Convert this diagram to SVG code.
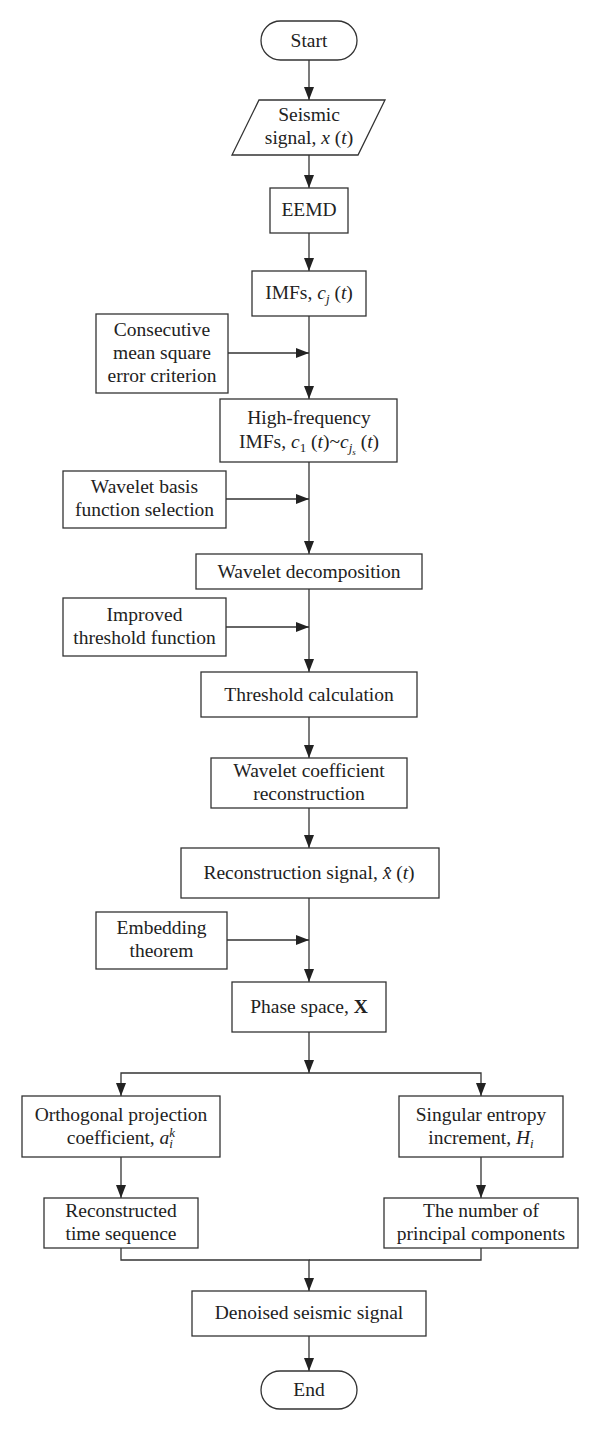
<svg xmlns="http://www.w3.org/2000/svg" width="600" height="1431" viewBox="0 0 600 1431">
<defs>
<style>
.b{fill:#fff;stroke:#333;stroke-width:1.3}
.c{fill:none;stroke:#333;stroke-width:1.3}
text{font-family:"Liberation Serif","Times New Roman",serif;font-size:19.5px;fill:#222;text-anchor:middle}
.i{font-style:italic}
.s{font-size:13px}
.ss{font-size:9px}
</style>
<marker id="a" markerUnits="userSpaceOnUse" markerWidth="13" markerHeight="10" refX="13" refY="5" orient="auto" viewBox="0 0 13 10">
<path d="M0,0 L13,5 L0,10 z" fill="#222"/>
</marker>
</defs>
<rect width="600" height="1431" fill="#fff"/>
<g id="connectors" class="c" marker-end="url(#a)">
<line x1="309" y1="60" x2="309" y2="100"/>
<line x1="309" y1="155" x2="309" y2="188"/>
<line x1="309" y1="233" x2="309" y2="271"/>
<line x1="309" y1="316" x2="309" y2="399"/>
<line x1="228" y1="353" x2="309" y2="353"/>
<line x1="309" y1="462" x2="309" y2="554"/>
<line x1="226" y1="499" x2="309" y2="499"/>
<line x1="309" y1="589" x2="309" y2="672"/>
<line x1="226" y1="627" x2="309" y2="627"/>
<line x1="309" y1="717" x2="309" y2="758"/>
<line x1="309" y1="808" x2="309" y2="848"/>
<line x1="309" y1="898" x2="309" y2="982"/>
<line x1="227" y1="940" x2="309" y2="940"/>
<line x1="309" y1="1032" x2="309" y2="1073"/>
<polyline points="309,1073 121,1073 121,1096"/>
<polyline points="309,1073 481,1073 481,1096"/>
<line x1="121" y1="1157" x2="121" y2="1198"/>
<line x1="481" y1="1157" x2="481" y2="1198"/>
<polyline points="121,1248 121,1260 309,1260 309,1291"/>
<polyline points="481,1248 481,1260 309,1260" marker-end="none"/>
<line x1="309" y1="1336" x2="309" y2="1371"/>
</g>
<g id="start"><rect class="b" x="261" y="21" width="96" height="39" rx="19.5"/><text x="309" y="47">Start</text></g>
<g id="input"><polygon class="b" points="259,100 385,100 358,155 232,155"/><text x="309" y="121">Seismic</text><text x="309" y="144">signal, <tspan class="i">x</tspan> (<tspan class="i">t</tspan>)</text></g>
<g id="eemd"><rect class="b" x="270" y="188" width="78" height="45"/><text x="309" y="216">EEMD</text></g>
<g id="imfs"><rect class="b" x="252" y="271" width="114" height="45"/><text x="309" y="299">IMFs, <tspan class="i">c</tspan><tspan class="i s" dy="4">j</tspan><tspan dy="-4"> (</tspan><tspan class="i">t</tspan>)</text></g>
<g id="cmse"><rect class="b" x="96" y="314" width="132" height="79"/><text x="162" y="336">Consecutive</text><text x="162" y="359">mean square</text><text x="162" y="382">error criterion</text></g>
<g id="hf"><rect class="b" x="220" y="399" width="177" height="63"/><text x="309" y="424">High-frequency</text><text x="309" y="448">IMFs, <tspan class="i">c</tspan><tspan class="s" dy="4">1</tspan><tspan dy="-4"> (</tspan><tspan class="i">t</tspan>)~<tspan class="i">c</tspan><tspan class="i s" dy="4">j</tspan><tspan class="i ss" dy="3">s</tspan><tspan dy="-7"> (</tspan><tspan class="i">t</tspan>)</text></g>
<g id="wbasis"><rect class="b" x="63" y="471" width="163" height="57"/><text x="144.5" y="493">Wavelet basis</text><text x="144.5" y="516">function selection</text></g>
<g id="wdec"><rect class="b" x="196" y="554" width="226" height="35"/><text x="309" y="578">Wavelet decomposition</text></g>
<g id="ithr"><rect class="b" x="63" y="598" width="163" height="58"/><text x="144.5" y="621">Improved</text><text x="144.5" y="644">threshold function</text></g>
<g id="tcalc"><rect class="b" x="201" y="672" width="216" height="45"/><text x="309" y="701">Threshold calculation</text></g>
<g id="wcr"><rect class="b" x="211" y="758" width="196" height="50"/><text x="309" y="777">Wavelet coefficient</text><text x="309" y="800">reconstruction</text></g>
<g id="rsig"><rect class="b" x="181" y="848" width="258" height="50"/><text x="309" y="879">Reconstruction signal, <tspan class="i">x̂</tspan> (<tspan class="i">t</tspan>)</text></g>
<g id="embed"><rect class="b" x="96" y="912" width="131" height="57"/><text x="161.5" y="934">Embedding</text><text x="161.5" y="957">theorem</text></g>
<g id="phase"><rect class="b" x="232" y="982" width="154" height="50"/><text x="309" y="1013">Phase space, <tspan font-weight="bold">X</tspan></text></g>
<g id="ortho"><rect class="b" x="22" y="1096" width="198" height="61"/><text x="121" y="1121">Orthogonal projection</text><text x="121" y="1144">coefficient, <tspan class="i">a</tspan><tspan class="i s" dy="-7">k</tspan><tspan class="i s" dx="-6" dy="11">i</tspan></text></g>
<g id="singular"><rect class="b" x="399" y="1096" width="164" height="61"/><text x="481" y="1121">Singular entropy</text><text x="481" y="1144">increment, <tspan class="i">H</tspan><tspan class="i s" dy="4">i</tspan></text></g>
<g id="rts"><rect class="b" x="44" y="1198" width="154" height="50"/><text x="121" y="1217">Reconstructed</text><text x="121" y="1240">time sequence</text></g>
<g id="npc"><rect class="b" x="384" y="1198" width="194" height="50"/><text x="481" y="1217">The number of</text><text x="481" y="1240">principal components</text></g>
<g id="denoised"><rect class="b" x="192" y="1291" width="234" height="45"/><text x="309" y="1319">Denoised seismic signal</text></g>
<g id="end"><rect class="b" x="261" y="1371" width="96" height="38" rx="19"/><text x="309" y="1396">End</text></g>
</svg>
